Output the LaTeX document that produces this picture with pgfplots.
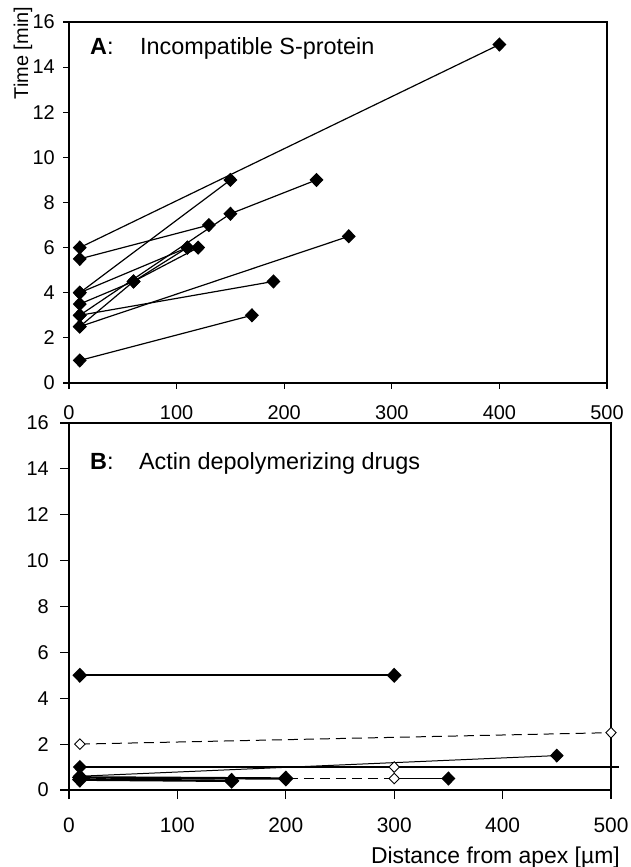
\documentclass[border=0pt]{standalone}
\usepackage{fontspec}
\setmainfont{Liberation Sans}
\usepackage{pgfplots}
\pgfplotsset{compat=1.18}

\newcommand\fs{\fontsize{20}{24}\selectfont}
\newcommand\ft{\fontsize{23.5}{28}\selectfont}

\pgfplotsset{
  panel/.style={
    scale only axis,
    xmin=0, xmax=500, ymin=0, ymax=16,
    xtick={0,100,...,500}, ytick={0,2,...,16},
    tick align=outside, tick pos=left,
    axis line style={line width=1.3pt},
    major tick style={line width=1.2pt, black},
    tick label style={font=\fs, inner sep=0pt},
    /pgf/number format/assume math mode=true,
    clip=false,
  },
  ln/.style={black, line width=1.2pt},
  fmark/.style={mark=diamond*, mark size=6.3bp, mark options={xscale=1.3, fill=black, draw=black, solid}},
  hmark/.style={mark=diamond*, mark size=5.3bp, mark options={xscale=1.3, fill=white, draw=black, solid, line width=0.9pt}},
}

\begin{document}
\begin{tikzpicture}[x=1bp,y=1bp]
\useasboundingbox (0,0) rectangle (631,867);

% Panel A
\begin{axis}[panel,
  at={(69bp,484bp)}, anchor=south west,
  width=538bp, height=361bp,
  major tick length=6bp,
  xticklabel style={anchor=north, yshift=-16bp},
  yticklabel style={anchor=east, xshift=-8bp},
]
\addplot[ln, fmark] coordinates {(10,6) (400,15)};
\addplot[ln, fmark] coordinates {(10,5.5) (130,7)};
\addplot[ln, fmark] coordinates {(10,4) (150,9)};
\addplot[ln, fmark] coordinates {(10,4) (110,6)};
\addplot[ln, fmark] coordinates {(10,3.5) (60,4.5) (120,6)};
\addplot[ln, fmark] coordinates {(10,2.5) (60,4.5) (110,6)};
\addplot[ln, fmark] coordinates {(10,3) (150,7.5) (230,9)};
\addplot[ln, fmark] coordinates {(10,2.5) (260,6.5)};
\addplot[ln, fmark] coordinates {(10,3) (190,4.5)};
\addplot[ln, fmark] coordinates {(10,1) (170,3)};
\node[font=\ft, anchor=base west, inner sep=0pt] at (rel axis cs:0.039,0.9086) {\textbf{A}:};
\node[font=\ft, anchor=base west, inner sep=0pt] at (rel axis cs:0.132,0.9086) {Incompatible S-protein};
\node[font=\fs, rotate=90, inner sep=0pt, anchor=center] at (rel axis cs:-0.0855,0.914) {Time [min]};
\end{axis}

% Panel B
\begin{axis}[panel,
  at={(69bp,77bp)}, anchor=south west,
  width=542bp, height=367bp,
  major tick length=9bp,
  xticklabel style={anchor=north, yshift=-19bp, font=\fontsize{21}{25}\selectfont},
  yticklabel style={anchor=east, xshift=-11bp},
]
\addplot[black, line width=1.8pt, fmark] coordinates {(10,5) (300,5)};
\addplot[black, line width=1pt, dash pattern=on 10bp off 6bp, hmark] coordinates {(10,2) (500,2.5)};
\addplot[ln, fmark, mark indices={1}] coordinates {(10,1) (507,1)};
\addplot[only marks, hmark] coordinates {(300,1)};
\addplot[black, line width=1pt, fmark] coordinates {(10,0.6) (450,1.5)};
\addplot[black, line width=2.4pt, fmark] coordinates {(10,0.45) (150,0.4)};
\addplot[black, line width=2.4pt, fmark] coordinates {(10,0.55) (200,0.5)};
\addplot[ln, fmark, mark indices={2}] coordinates {(300,0.5) (350,0.5)};
\addplot[black, line width=1pt, dash pattern=on 10bp off 6bp, hmark, mark indices={2}] coordinates {(10,0.5) (300,0.5)};
\node[font=\ft, anchor=base west, inner sep=0pt] at (rel axis cs:0.0387,0.872) {\textbf{B}:};
\node[font=\ft, anchor=base west, inner sep=0pt] at (rel axis cs:0.129,0.872) {Actin depolymerizing drugs};
\node[font=\fontsize{23}{27}\selectfont, anchor=north east, inner sep=0pt] at (rel axis cs:1.0166,-0.155) {Distance from apex [µm]};
\end{axis}
\end{tikzpicture}
\end{document}
